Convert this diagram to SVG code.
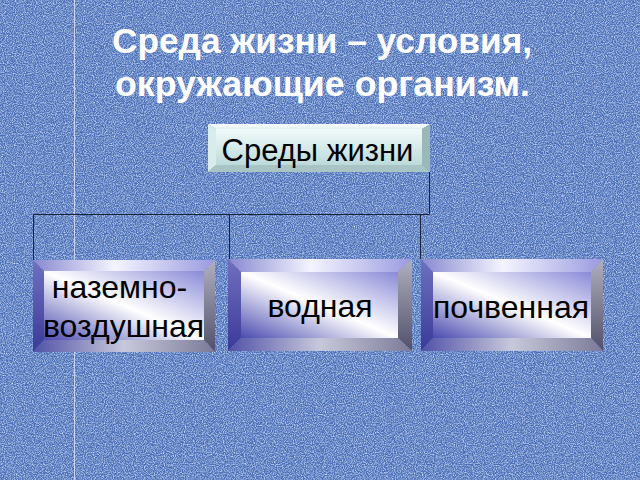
<svg xmlns="http://www.w3.org/2000/svg" width="640" height="480" viewBox="0 0 640 480">
<defs>
  <filter id="noise" x="0" y="0" width="100%" height="100%">
    <feTurbulence type="fractalNoise" baseFrequency="0.9" numOctaves="2" seed="3" result="n"/>
    <feColorMatrix in="n" type="matrix" values="0 0 0 0 0.66  0 0 0 0 0.8  0 0 0 0 1  0 0 0 1.8 -0.65"/>
  </filter>
  <linearGradient id="face" x1="0" y1="1" x2="1" y2="0">
    <stop offset="0" stop-color="#4a4ab0"/>
    <stop offset="0.5" stop-color="#ffffff"/>
    <stop offset="1" stop-color="#8a8ad8"/>
  </linearGradient>
  <linearGradient id="topB" x1="0" y1="0" x2="1" y2="0">
    <stop offset="0" stop-color="#8888d0"/>
    <stop offset="0.45" stop-color="#f4f4ff"/>
    <stop offset="1" stop-color="#9a9ae0"/>
  </linearGradient>
  <linearGradient id="leftB" x1="0" y1="0" x2="0" y2="1">
    <stop offset="0" stop-color="#7070c0"/>
    <stop offset="1" stop-color="#3a3a98"/>
  </linearGradient>
  <linearGradient id="rightB" x1="0" y1="0" x2="0" y2="1">
    <stop offset="0" stop-color="#b0b0c0"/>
    <stop offset="1" stop-color="#50506a"/>
  </linearGradient>
  <linearGradient id="botB" x1="0" y1="0" x2="1" y2="0">
    <stop offset="0" stop-color="#5050a8"/>
    <stop offset="0.5" stop-color="#c8c8dc"/>
    <stop offset="1" stop-color="#7a7a98"/>
  </linearGradient>
  <linearGradient id="faceT" x1="0" y1="0" x2="0" y2="1">
    <stop offset="0" stop-color="#f2fafa"/>
    <stop offset="1" stop-color="#bcdada"/>
  </linearGradient>
  <linearGradient id="topT" x1="0" y1="0" x2="0" y2="1">
    <stop offset="0" stop-color="#ffffff"/>
    <stop offset="1" stop-color="#e0f0f0"/>
  </linearGradient>
</defs>
<style>
  .t{font-family:"Liberation Sans",Arial,sans-serif;fill:#000;font-size:32px;text-anchor:middle}
  .title{font-family:"Liberation Sans",Arial,sans-serif;fill:#fff;font-size:35px;font-weight:bold;text-anchor:middle}
  .conn{fill:none;stroke:#1a2438;stroke-width:1}
</style>
<rect width="640" height="480" fill="#4c6eb6"/>
<rect width="640" height="480" filter="url(#noise)"/>
<line x1="74.5" y1="0" x2="74.5" y2="480" stroke="#dfe8f8" stroke-width="1" opacity="0.8"/>

<g id="title">
  <text class="title" x="322" y="53" textLength="420" lengthAdjust="spacingAndGlyphs">Среда жизни – условия,</text>
  <text class="title" x="322.5" y="96" textLength="415" lengthAdjust="spacingAndGlyphs">окружающие организм.</text>
</g>

<g id="connectors">
  <path class="conn" d="M429.5 172 V214.5 H33.5 V260"/>
  <path class="conn" d="M229.5 214.5 V259"/>
  <path class="conn" d="M420.5 214.5 V259"/>
</g>

<g id="root">
  <polygon points="208,124 430,124 422,129 216,129" fill="url(#topT)"/>
  <polygon points="208,124 216,129 216,165 208,172" fill="#d8ecec"/>
  <polygon points="430,124 430,172 422,165 422,129" fill="#9ab8b8"/>
  <polygon points="208,172 216,165 422,165 430,172" fill="#a8c4c4"/>
  <rect x="216" y="129" width="206" height="36" fill="url(#faceT)"/>
  <text class="t" x="317.5" y="161" style="font-size:31px">Среды жизни</text>
</g>

<g id="n1">
  <polygon points="33,260 215,260 204,271 44,271" fill="url(#topB)"/>
  <polygon points="33,260 44,271 44,340 33,352" fill="url(#leftB)"/>
  <polygon points="215,260 215,352 204,340 204,271" fill="url(#rightB)"/>
  <polygon points="33,352 44,340 204,340 215,352" fill="url(#botB)"/>
  <rect x="44" y="271" width="160" height="69" fill="url(#face)"/>
  <text class="t" x="119.5" y="298">наземно-</text>
  <text class="t" x="123.5" y="337">воздушная</text>
</g>

<g id="n2">
  <polygon points="228,259 412,259 398,272 241,272" fill="url(#topB)"/>
  <polygon points="228,259 241,272 241,338 228,351" fill="url(#leftB)"/>
  <polygon points="412,259 412,351 398,338 398,272" fill="url(#rightB)"/>
  <polygon points="228,351 241,338 398,338 412,351" fill="url(#botB)"/>
  <rect x="241" y="272" width="157" height="66" fill="url(#face)"/>
  <text class="t" x="320" y="317">водная</text>
</g>

<g id="n3">
  <polygon points="421,259 603,259 591,272 433,272" fill="url(#topB)"/>
  <polygon points="421,259 433,272 433,338 421,351" fill="url(#leftB)"/>
  <polygon points="603,259 603,351 591,338 591,272" fill="url(#rightB)"/>
  <polygon points="421,351 433,338 591,338 603,351" fill="url(#botB)"/>
  <rect x="433" y="272" width="158" height="66" fill="url(#face)"/>
  <text class="t" x="511" y="318">почвенная</text>
</g>
</svg>
